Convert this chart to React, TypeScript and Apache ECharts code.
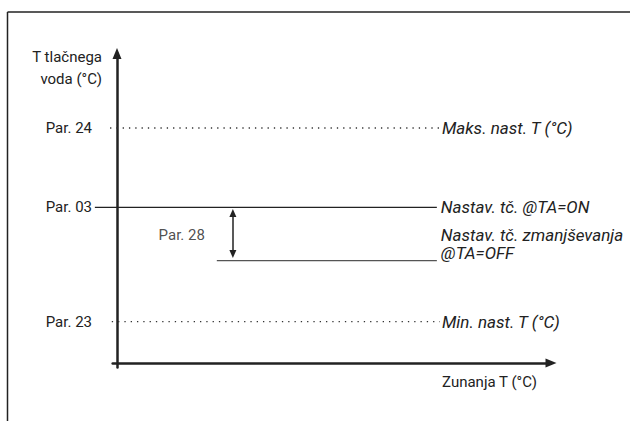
import React, { useEffect, useRef } from "react";
import * as echarts from "echarts";

// ---- data (schematic levels) ----
const lineTexts = [
  "Maks. nast. T (°C)",
  "Nastav. tč. @TA=ON",
  "Nastav. tč. zmanjševanja\n@TA=OFF",
  "Min. nast. T (°C)",
];
const lineLevels = [106.3, 70.4, 46.3, 18.7];
const lineStartX = [-1.6, -5.1, 23.0, -1.2];
const lineEndX = [74.4, 73.7, 73.7, 74.4];
const lineDotted = [true, false, false, true];

const parLabels = ["Par. 24", "Par. 03", "Par. 23"];
const parValues = [106.3, 70.4, 18.7];

const offsetLabel = "Par. 28";
const offsetX = 26.7;
const offsetLabelY = 57.9;
const offsetArrowTop = 67.9;
const offsetArrowBottom = 49.3;

const yAxisName = "T tlačnega\nvoda (°C)";
const xAxisName = "Zunanja T (°C)";

const FONT = "Roboto, 'Liberation Sans', sans-serif";
const INK = "#222";

export default function App() {
  const ref = useRef<HTMLDivElement>(null);
  useEffect(() => {
    if (!ref.current) return;
    const chart = echarts.init(ref.current, null, { renderer: "svg" });
    const labelMap: Record<string, string> = {};
    parValues.forEach((v, i) => (labelMap[String(v)] = parLabels[i]));

    const lineSeries = lineTexts.map((t, i) => ({
      type: "line",
      name: t,
      silent: true,
      clip: false,
      xAxisIndex: 1,
      yAxisIndex: 1,
      symbol: "none",
      data: [
        [lineStartX[i], lineLevels[i]],
        [lineEndX[i], lineLevels[i]],
      ],
      lineStyle: {
        color: i === 2 ? "#555" : lineDotted[i] ? "#333" : INK,
        width: lineDotted[i] ? 1.3 : 1.2,
        type: lineDotted[i] ? [1.3, 5] : "solid",
      },
      endLabel: {
        show: true,
        formatter: t,
        fontFamily: FONT,
        fontStyle: "italic",
        fontSize: 17,
        color: INK,
        lineHeight: 18,
        distance: lineDotted[i] ? 2 : 4,
        offset: i === 2 ? [0, -17] : [0, 0],
      },
    }));

    const hiddenAxis = {
      show: false,
      axisLine: { show: false },
      axisTick: { show: false },
      axisLabel: { show: false },
      splitLine: { show: false },
    };

    chart.setOption({
      animation: false,
      grid: [
        { left: 112.66, right: 79, top: 53.5, bottom: 53.58, containLabel: false, outerBoundsMode: "none" },
        { left: 8.5, right: 79, top: 53.5, bottom: 58, containLabel: false, outerBoundsMode: "none" },
      ],
      xAxis: [
        {
          type: "value",
          gridIndex: 0,
          min: -1,
          max: 100,
          name: xAxisName,
          nameLocation: "end",
          nameGap: -14,
          nameTextStyle: {
            fontFamily: FONT,
            fontSize: 15,
            color: INK,
            align: "right",
            verticalAlign: "top",
            padding: [12, 0, 0, 0],
          },
          axisLine: {
            onZero: true,
            lineStyle: { color: INK, width: 2.5 },
            symbol: ["none", "triangle"],
            symbolSize: [9, 11],
          },
          axisTick: { show: false },
          axisLabel: { show: false },
          splitLine: { show: false },
        },
        { type: "value", gridIndex: 1, min: -25, max: 100, ...hiddenAxis },
      ],
      yAxis: [
        {
          type: "value",
          gridIndex: 0,
          min: -2,
          max: 140,
          name: yAxisName,
          nameLocation: "end",
          nameGap: 7.5,
          nameTextStyle: {
            fontFamily: FONT,
            fontSize: 15,
            color: INK,
            align: "right",
            verticalAlign: "top",
            lineHeight: 22,
            padding: [0, 15, 0, 0],
          },
          axisLine: {
            onZero: true,
            lineStyle: { color: INK, width: 2.5 },
            symbol: ["none", "triangle"],
            symbolSize: [9, 11],
          },
          axisTick: { show: false },
          axisLabel: {
            show: true,
            customValues: parValues,
            margin: 20.66,
            fontFamily: FONT,
            fontSize: 15,
            color: INK,
            formatter: (v: number) => labelMap[String(v)] ?? "",
          },
          splitLine: { show: false },
        },
        { type: "value", gridIndex: 1, min: 0, max: 140, ...hiddenAxis },
      ],
      graphic: [
        { type: "line", shape: { x1: 7.5, y1: 12, x2: 630, y2: 12 }, style: { stroke: INK, lineWidth: 1.5 } },
        { type: "line", shape: { x1: 7.5, y1: 12, x2: 7.5, y2: 421 }, style: { stroke: INK, lineWidth: 1.5 } },
      ],
      series: [
        ...lineSeries,
        {
          type: "scatter",
          silent: true,
          xAxisIndex: 1,
          yAxisIndex: 1,
          symbolSize: 0,
          data: [[offsetX, offsetLabelY]],
          label: {
            show: true,
            position: "left",
            distance: 28,
            formatter: offsetLabel,
            fontFamily: FONT,
            fontSize: 15,
            color: INK,
          },
          markLine: {
            silent: true,
            symbol: ["triangle", "triangle"],
            symbolSize: [7, 8],
            label: { show: false },
            lineStyle: { color: INK, width: 1.5, type: "solid" },
            emphasis: { disabled: true },
            data: [
              [
                { coord: [offsetX, offsetArrowTop] },
                { coord: [offsetX, offsetArrowBottom] },
              ],
            ],
          },
        },
      ],
    });
    return () => chart.dispose();
  }, []);
  return <div ref={ref} style={{ width: 630, height: 421, position: "absolute", left: 0, top: 0 }} />;
}
